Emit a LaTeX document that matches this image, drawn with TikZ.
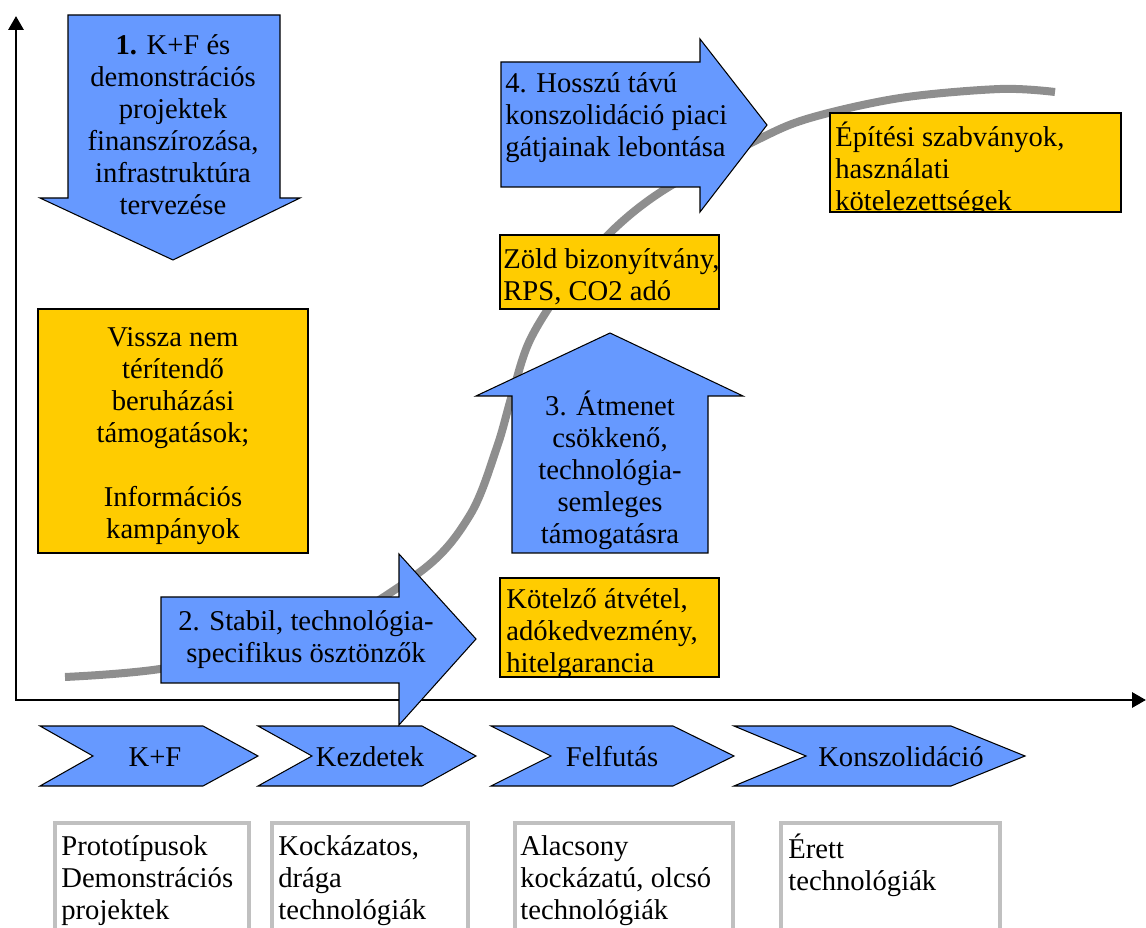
\documentclass[tikz,border=0pt]{standalone}
\usepackage{fontspec}
\setmainfont{Liberation Serif}
\usetikzlibrary{arrows.meta}
\definecolor{arrowblue}{HTML}{6699FF}
\definecolor{boxyellow}{HTML}{FFCC00}
\definecolor{curvegray}{HTML}{8E8E8E}
\definecolor{framegray}{HTML}{C0C0C0}

\begin{document}
\begin{tikzpicture}[x=0.02cm,y=-0.02cm,
        every node/.style={font=\fontsize{16.3}{18.2}\selectfont, inner sep=0pt},
        bluearrow/.style={draw=black, fill=arrowblue, line width=0.6pt, line join=miter},
        yellowbox/.style={draw=black, fill=boxyellow, line width=0.6pt},
        stagebox/.style={draw=framegray, line width=2.2pt},
        axis/.style={line width=1.7pt, {Triangle[length=0.28cm,width=0.3cm]}-{Triangle[length=0.28cm,width=0.3cm]}},
        midtext/.style={align=center},
        lefttext/.style={align=left, anchor=west}]
        \clip (0,0) rectangle (1146,928);
        % the S-curve
        \draw[curvegray, line width=0.16cm] plot[smooth, tension=0.55] coordinates {(65,677) (160,669) (300,642) (420,572) (470,515) (497,447) (512,395) (530,340) (565,285) (613,230) (667,188) (757,140) (810,118) (900,98) (1000,89) (1055,92)};
        % axes
        \coordinate (ytop) at (16,16);
        \coordinate (xend) at (1146,700);
        \draw[axis] (ytop) |- (xend);

        % 1. arrow down
        \draw[bluearrow] (68,15) -- (280,15) -- (280,198) -- (300,198) -- (173,260) -- (40,198) -- (68,198) -- cycle;
        \node[midtext] (rnd) at (173,125) {\textbf{1.} K+F és\\demonstrációs\\projektek\\finanszírozása,\\infrastruktúra\\tervezése};

        \draw[yellowbox] (38,309) rectangle (308,553);
        \node[midtext] (grants) at (173,436) {Vissza nem\\térítendő\\beruházási\\támogatások;\\[18.2pt]Információs\\kampányok};

        % stages
        \foreach \l/\n/\t/\r/\c/\name/\txt in {40/93/203/258/155/kf/K+F, 258/312/422/476/370/kezdet/Kezdetek, 491/551/673/734/612/felfut/Felfutás, 734/806/951/1025/901/konsz/Konszolidáció} {
            \draw[bluearrow] (\l,726) -- (\t,726) -- (\r,756) -- (\t,786) -- (\l,786) -- (\n,756) -- cycle;
            \node (\name) at (\c,757) {\txt};
        }

        % 2. arrow right
        \draw[bluearrow] (161,597) -- (399,597) -- (399,554) -- (476,639) -- (399,725) -- (399,683) -- (161,683) -- cycle;
        \node[midtext] (stable) at (306,640) {2. Stabil, technológia-\\specifikus ösztönzők};

        \draw[yellowbox] (500,578) rectangle (719,677);
        \begin{scope}
            \clip (500,578) rectangle (719,677);
            \node[lefttext] (feedin) at (506,634) {Kötelző átvétel,\\adókedvezmény,\\hitelgarancia};
        \end{scope}

        % 3. arrow up
        \draw[bluearrow] (512,553) -- (512,396) -- (476,396) -- (610,333) -- (743,396) -- (708,396) -- (708,553) -- cycle;
        \node[midtext] (transit) at (610,470) {3. Átmenet\\csökkenő,\\technológia-\\semleges\\támogatásra};

        \draw[yellowbox] (500,235) rectangle (719,309);
        \node[lefttext] (green) at (503,277) {Zöld bizonyítvány,\\RPS, CO2 adó};

        % 4. arrow right
        \draw[bluearrow] (501,62) -- (700,62) -- (700,39) -- (767,125) -- (700,212) -- (700,187) -- (501,187) -- cycle;
        \node[lefttext] (barriers) at (505,118) {4. Hosszú távú\\konszolidáció piaci\\gátjainak lebontása};

        \draw[yellowbox] (830,113) rectangle (1121,212);
        \begin{scope}
            \clip (830,113) rectangle (1121,212);
            \node[lefttext] (codes) at (835,169) {Építési szabványok,\\használati\\kötelezettségek};
        \end{scope}

        % technology boxes
        \draw[stagebox] (55,823) rectangle (249,950);
        \node[lefttext] (proto) at (61,881) {Prototípusok\\Demonstrációs\\projektek};
        \draw[stagebox] (272,823) rectangle (468,950);
        \node[lefttext] (risky) at (278,881) {Kockázatos,\\drága\\technológiák};
        \draw[stagebox] (515,823) rectangle (733,950);
        \node[lefttext] (cheap) at (520,881) {Alacsony\\kockázatú, olcsó\\technológiák};
        \draw[stagebox] (781,823) rectangle (1000,950);
        \node[lefttext] (mature) at (788,865) {Érett\\technológiák};
\end{tikzpicture}
\end{document}
